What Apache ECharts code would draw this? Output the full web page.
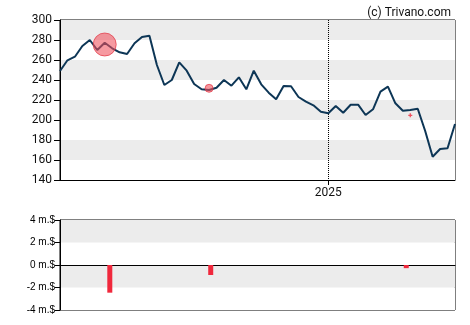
<!DOCTYPE html>
<html><head><meta charset="utf-8">
<script src="https://cdn.jsdelivr.net/npm/echarts@6/dist/echarts.min.js"></script>
<style>html,body{margin:0;padding:0;background:#fff}#c{width:470px;height:325px}</style>
</head><body><div id="c"></div>
<script>
var dates = ['2024-04-26','2024-05-03','2024-05-10','2024-05-17','2024-05-24','2024-05-31','2024-06-07','2024-06-14','2024-06-21','2024-06-28',
'2024-07-05','2024-07-12','2024-07-19','2024-07-26','2024-08-02','2024-08-09','2024-08-16','2024-08-23','2024-08-30','2024-09-06',
'2024-09-13','2024-09-20','2024-09-27','2024-10-04','2024-10-11','2024-10-18','2024-10-25','2024-11-01','2024-11-08','2024-11-15',
'2024-11-22','2024-11-29','2024-12-06','2024-12-13','2024-12-20','2024-12-27','2025-01-03','2025-01-10','2025-01-17','2025-01-24',
'2025-01-31','2025-02-07','2025-02-14','2025-02-21','2025-02-28','2025-03-07','2025-03-14','2025-03-21','2025-03-28','2025-04-04',
'2025-04-11','2025-04-18','2025-04-25','2025-05-02'];
var prices = [249,259.7,263.3,274,280,270,277.3,271.7,267.7,266,
276.7,283,284.3,255,235,240,257.7,249.3,236,230.7,
230,232.3,240,234.3,242.7,230.7,249.3,235.7,227.3,220.7,
234,233.7,223,218.3,214.7,208.3,206.7,214,207.3,215.3,
215.3,205,210.7,228.3,233.3,216.7,209.3,210,211.3,189,
163.3,171,171.7,196];
var yearTickIndex = 36;
var yearLabel = '2025';
var bigBubble = [[6, 275.5]];
var smallBubble = [[20, 231.7]];
var marker = [[47, 204.7]];
var barDates = ['2024-06-10','2024-09-14','2025-03-19'];
var barValues = [-2.46, -0.89, -0.28];
var priceTicks = {min:140, max:300, interval:20};
var flowTicks = {min:-4, max:4, interval:2};

var chart = echarts.init(document.getElementById('c'));
var isYear = function(i){ return i === yearTickIndex; };
chart.setOption({
  animation:false,
  title:{text:'(c) Trivano.com', right:14, top:2, textStyle:{fontFamily:'Roboto', fontSize:12, fontWeight:'normal', color:'#111'}},
  grid:[
    {left:60, right:15, top:20, height:160, show:true, borderColor:'#000', borderWidth:1, backgroundColor:'transparent'},
    {left:60, right:15, top:220, height:90, show:true, borderColor:'#000', borderWidth:1, backgroundColor:'transparent'}
  ],
  xAxis:[
    {type:'category', gridIndex:0, data:dates, boundaryGap:false,
     axisLine:{lineStyle:{color:'#000', width:1}},
     axisTick:{show:true, interval:isYear, length:5, lineStyle:{color:'#000'}},
     axisLabel:{interval:isYear, formatter:function(){return yearLabel;}, color:'#111', fontFamily:'Roboto', fontSize:12, margin:7},
     splitLine:{show:true, interval:isYear, lineStyle:{color:'#000', type:'dotted', width:1}}},
    {type:'time', gridIndex:1, min:dates[0], max:dates[dates.length-1],
     axisLine:{onZero:true, lineStyle:{color:'#000', width:1}},
     axisTick:{show:false}, axisLabel:{show:false}, splitLine:{show:false}}
  ],
  yAxis:[
    {type:'value', gridIndex:0, min:priceTicks.min, max:priceTicks.max, interval:priceTicks.interval,
     axisLine:{show:true, lineStyle:{color:'#000'}},
     axisTick:{show:true, length:6, lineStyle:{color:'#000'}},
     axisLabel:{color:'#111', fontFamily:'Roboto', fontSize:12, margin:8},
     splitLine:{show:false},
     splitArea:{show:true, areaStyle:{color:['#ffffff','#ececec']}}},
    {type:'value', gridIndex:1, min:flowTicks.min, max:flowTicks.max, interval:flowTicks.interval,
     axisLine:{show:true, lineStyle:{color:'#000'}},
     axisTick:{show:true, length:5, lineStyle:{color:'#000'}},
     axisLabel:{color:'#000', fontFamily:'Liberation Sans', fontSize:10, margin:5, formatter:function(v){return v+' m.$';}},
     splitLine:{show:false},
     splitArea:{show:true, areaStyle:{color:['#ffffff','#ececec']}}}
  ],
  series:[
    {type:'line', xAxisIndex:0, yAxisIndex:0, data:prices, symbol:'none', lineStyle:{color:'#0d3656', width:2}, z:3},
    {type:'scatter', xAxisIndex:0, yAxisIndex:0, data:bigBubble, symbolSize:23, itemStyle:{color:'rgba(240,80,92,0.72)', borderColor:'rgba(225,50,65,0.85)', borderWidth:1}, z:4},
    {type:'scatter', xAxisIndex:0, yAxisIndex:0, data:smallBubble, symbolSize:8, itemStyle:{color:'rgba(240,80,92,0.75)', borderColor:'rgba(225,50,65,0.85)', borderWidth:1}, z:4},
    {type:'scatter', xAxisIndex:0, yAxisIndex:0, data:marker, symbol:'path://M1,0H2V1H3V2H2V3H1V2H0V1H1Z', symbolSize:4, itemStyle:{color:'#f0283c'}, z:4},
    {type:'bar', xAxisIndex:1, yAxisIndex:1, data:barDates.map(function(d,i){return [d, barValues[i]];}), barWidth:5, itemStyle:{color:'#f0283c'}, z:3}
  ]
});
</script></body></html>
